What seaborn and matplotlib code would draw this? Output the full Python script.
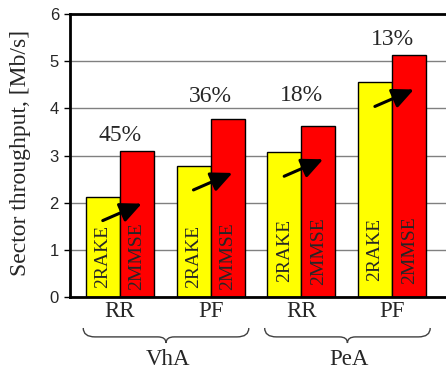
import matplotlib
matplotlib.use("Agg")
import matplotlib.pyplot as plt
from matplotlib.path import Path
from matplotlib.patches import PathPatch
from matplotlib.transforms import blended_transform_factory
import seaborn as sns
import pandas as pd

# Sector throughput per scheduler / antenna configuration
groups = ["VhA", "VhA", "PeA", "PeA"]
schedulers = ["RR", "PF", "RR", "PF"]
rake = [2.13, 2.78, 3.07, 4.55]
mmse = [3.10, 3.77, 3.62, 5.13]
gain_labels = ["45%", "36%", "18%", "13%"]
receivers = ["2RAKE", "2MMSE"]
yticks = [0, 1, 2, 3, 4, 5, 6]

sns.set_theme(style="white")
serif = "Liberation Serif"
sans = "Liberation Sans"

keys = [f"{g} {s}" for g, s in zip(groups, schedulers)]
df = pd.DataFrame({
    "case": keys * 2,
    "receiver": [receivers[0]] * 4 + [receivers[1]] * 4,
    "throughput": rake + mmse,
})

fig = plt.figure(figsize=(4.46, 3.71), dpi=100)
ax = fig.add_axes([70 / 446, 1 - 297 / 371, 1 - 70 / 446, (297 - 14) / 371])

sns.barplot(data=df, x="case", y="throughput", hue="receiver", order=keys,
            hue_order=receivers, palette=["#FFFF00", "#FF0000"], saturation=1,
            edgecolor="black", linewidth=1, width=0.75, gap=0,
            legend=False, ax=ax, zorder=2)

ax.set_xlim(-0.551, 3.594)
ax.set_ylim(0, 6)
ax.set_yticks(yticks)
ax.set_yticklabels([str(t) for t in yticks], fontfamily=sans, fontsize=12)
ax.set_xticks(range(len(keys)))
ax.set_xticklabels(schedulers, fontfamily=serif, fontsize=16.5)
ax.tick_params(axis="x", length=0, pad=3)
ax.tick_params(axis="y", length=4, width=1, color="black", pad=4, left=True)

ax.set_axisbelow(True)
ax.yaxis.grid(True, color="#808080", linewidth=1)
for side in ("left", "bottom", "top"):
    ax.spines[side].set_visible(True)
    ax.spines[side].set_color("black")
    ax.spines[side].set_linewidth(2)
ax.spines["right"].set_visible(False)

ax.set_xlabel("")
ax.set_ylabel("Sector throughput, [Mb/s]", fontfamily=serif, fontsize=17)
ax.yaxis.set_label_coords(-0.104, 0.51)

# Gain annotations above each pair
gain_y = [3.43, 4.26, 4.28, 5.46]
for i, (lab, gy) in enumerate(zip(gain_labels, gain_y)):
    ax.text(i, gy, lab, ha="center", va="center", fontfamily=serif, fontsize=17)

# Receiver names written inside the bars
inner_y = [0.86, 0.87, 0.98, 1.0]
for i, iy in enumerate(inner_y):
    ax.text(i - 0.1875, iy, receivers[0], rotation=90, ha="center", va="center",
            fontfamily=serif, fontsize=14, zorder=3)
    ax.text(i + 0.1875, iy, receivers[1], rotation=90, ha="center", va="center",
            fontfamily=serif, fontsize=14, zorder=3)

# Arrows from the RAKE bar to the MMSE bar
for i, r in enumerate(rake):
    ax.annotate("", xy=(i + 0.24, r - 0.15), xytext=(i - 0.19, r - 0.51),
                arrowprops=dict(arrowstyle="-|>,head_length=0.65,head_width=0.3",
                                color="black", lw=2.2, mutation_scale=20,
                                shrinkA=0, shrinkB=0),
                zorder=4)

# Curly braces grouping the schedulers by antenna type
trans = blended_transform_factory(ax.transData, ax.transAxes)
yt, ym, yb = -0.1095, -0.141, -0.1625


def brace(x0, x1, d_end=0.13, d_tip=0.09):
    c = (x0 + x1) / 2
    verts = [(x0, yt), (x0, ym), (x0 + d_end, ym),
             (c - d_tip, ym), (c, ym), (c, yb),
             (c, ym), (c + d_tip, ym),
             (x1 - d_end, ym), (x1, ym), (x1, yt)]
    codes = [Path.MOVETO, Path.CURVE3, Path.CURVE3,
             Path.LINETO, Path.CURVE3, Path.CURVE3,
             Path.CURVE3, Path.CURVE3,
             Path.LINETO, Path.CURVE3, Path.CURVE3]
    patch = PathPatch(Path(verts, codes), facecolor="none", edgecolor="#404040",
                      lw=1, transform=trans, clip_on=False)
    ax.add_patch(patch)
    return c


for g0, name in ((0, "VhA"), (2, "PeA")):
    c = brace(g0 - 0.405, g0 + 1.42)
    ax.text(c + 0.02, -0.222, name, transform=trans, ha="center", va="center",
            fontfamily=serif, fontsize=16.5)

fig.savefig("out.png", dpi=100)
